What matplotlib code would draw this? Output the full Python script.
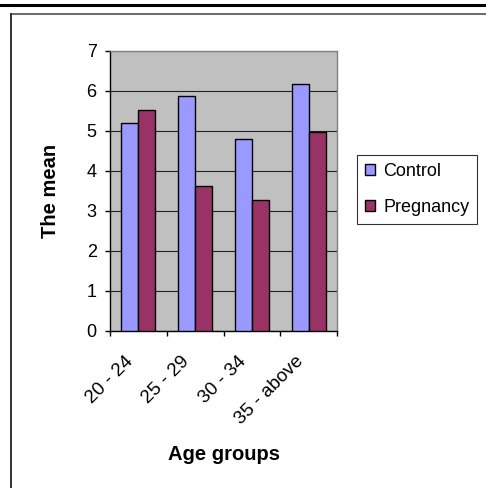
import matplotlib
matplotlib.use("Agg")
import matplotlib.pyplot as plt
from matplotlib.lines import Line2D
from matplotlib.transforms import ScaledTranslation
import numpy as np

plt.rcParams['font.family'] = ['Liberation Sans', 'DejaVu Sans']

categories = ["20 - 24", "25 - 29", "30 - 34", "35 - above"]
control = [5.19, 5.87, 4.80, 6.16]
pregnancy = [5.51, 3.63, 3.26, 4.97]
series_names = ["Control", "Pregnancy"]
colors = ["#9999FF", "#993366"]

W, H = 486, 488
fig = plt.figure(figsize=(W / 100, H / 100), dpi=100)
fig.patch.set_facecolor("white")

# page rule and chart frame
fig.add_artist(Line2D([0, 1], [1 - 5 / H, 1 - 5 / H], color="black", lw=2.2))
fig.add_artist(Line2D([10.5 / W, 1], [1 - 13.5 / H, 1 - 13.5 / H], color="#505050", lw=1.2))
fig.add_artist(Line2D([10.5 / W, 10.5 / W], [0, 1 - 13.5 / H], color="#303030", lw=1.4))

ax = fig.add_axes([110 / W, 157.3 / H, 227 / W, 280 / H])
ax.set_facecolor("#C0C0C0")

x = np.arange(len(categories))
bw = 0.3
b1 = ax.bar(x - bw / 2, control, bw, color=colors[0], edgecolor="black", lw=1.0,
            label=series_names[0], zorder=3)
b2 = ax.bar(x + bw / 2, pregnancy, bw, color=colors[1], edgecolor="black", lw=1.0,
            label=series_names[1], zorder=3)

ax.set_xlim(-0.5, len(categories) - 0.5)
ax.set_ylim(0, 7)
ax.set_yticks(range(0, 8))
ax.yaxis.grid(True, color="#202020", lw=0.8, zorder=1)
ax.set_axisbelow(True)

ax.set_xticks(x)
ax.set_xticks(np.arange(-0.5, len(categories)), minor=True)
ax.tick_params(axis="x", which="major", length=0, pad=0)
ax.tick_params(axis="x", which="minor", length=3.6, width=1, direction="out")
ax.tick_params(axis="y", length=3.6, width=1, direction="out", labelsize=13, pad=6)

ax.set_xticklabels(categories, rotation=45, ha="right", va="center",
                   rotation_mode="anchor", fontsize=13.6)
offset = ScaledTranslation(-8 / 100, -28 / 100, fig.dpi_scale_trans)
for lbl in ax.get_xticklabels():
    lbl.set_transform(lbl.get_transform() + offset)

for s in ["left", "bottom"]:
    ax.spines[s].set_color("black")
    ax.spines[s].set_linewidth(1.0)
for s in ["top", "right"]:
    ax.spines[s].set_color("#808080")
    ax.spines[s].set_linewidth(1.0)

fig.text(56 / W, 1 - 191 / H, "The mean", rotation=90, rotation_mode="anchor",
         ha="center", va="baseline", fontsize=14.5, fontweight="bold")
fig.text(223.5 / W, 1 - 460 / H, "Age groups", ha="center", va="baseline",
         fontsize=14.5, fontweight="bold")

leg = fig.legend(handles=[b1, b2], labels=series_names, loc="upper left",
                 bbox_to_anchor=(357 / W, 1 - 155 / H), frameon=True, fancybox=False,
                 edgecolor="black", fontsize=13, handlelength=0.55, handleheight=0.55,
                 handletextpad=0.45, borderpad=0.45, labelspacing=1.05, borderaxespad=0)
leg.get_frame().set_linewidth(0.8)

fig.savefig("out.png", dpi=100, facecolor="white")
